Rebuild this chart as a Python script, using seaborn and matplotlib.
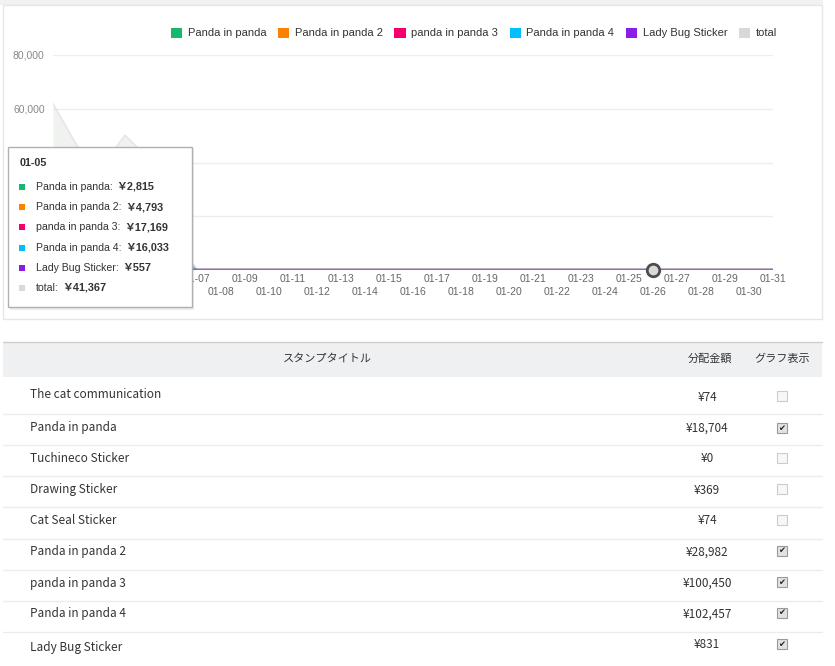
import matplotlib
matplotlib.use('Agg')
import matplotlib.pyplot as plt
from matplotlib.patches import Rectangle, Patch
from matplotlib.ticker import FuncFormatter
import seaborn as sns
import pandas as pd

# ---- data -------------------------------------------------------------
dates = ['01-01', '01-02', '01-03', '01-04', '01-05', '01-06', '01-07', '01-08',
         '01-09', '01-10', '01-11', '01-12', '01-13', '01-14', '01-15', '01-16',
         '01-17', '01-18', '01-19', '01-20', '01-21', '01-22', '01-23', '01-24',
         '01-25', '01-26', '01-27', '01-28', '01-29', '01-30', '01-31']

series_names = ['Panda in panda', 'Panda in panda 2', 'panda in panda 3',
                'Panda in panda 4', 'Lady Bug Sticker']
series_colors = ['#14b86e', '#ff8000', '#f5006b', '#00bfff', '#8a1ee6']
total_color = '#d5dad5'

panda1 = [4200, 3100, 2600, 3400, 2815, 2589, 0, 0, 0, 0, 0, 0, 0, 0, 0, 0,
          0, 0, 0, 0, 0, 0, 0, 0, 0, 0, 0, 0, 0, 0, 0]
panda2 = [7300, 5400, 4500, 5800, 4793, 1189, 0, 0, 0, 0, 0, 0, 0, 0, 0, 0,
          0, 0, 0, 0, 0, 0, 0, 0, 0, 0, 0, 0, 0, 0, 0]
panda3 = [25800, 19100, 15800, 20900, 17169, 1681, 0, 0, 0, 0, 0, 0, 0, 0, 0, 0,
          0, 0, 0, 0, 0, 0, 0, 0, 0, 0, 0, 0, 0, 0, 0]
panda4 = [24500, 18600, 15300, 20000, 16033, 8024, 0, 0, 0, 0, 0, 0, 0, 0, 0, 0,
          0, 0, 0, 0, 0, 0, 0, 0, 0, 0, 0, 0, 0, 0, 0]
ladybug = [150, 60, 0, 64, 557, 0, 0, 0, 0, 0, 0, 0, 0, 0, 0, 0,
           0, 0, 0, 0, 0, 0, 0, 0, 0, 0, 0, 0, 0, 0, 0]

hover_tip = 4      # 01-05 tooltip
hover_point = 25   # 01-26 marker

# table below the chart
stamp_titles = ['The cat communication', 'Panda in panda', 'Tuchineco Sticker',
                'Drawing Sticker', 'Cat Seal Sticker', 'Panda in panda 2',
                'panda in panda 3', 'Panda in panda 4', 'Lady Bug Sticker']
stamp_amounts = [74, 18704, 0, 369, 74, 28982, 100450, 102457, 831]
stamp_shown = [False, True, False, False, False, True, True, True, True]

# ---- frame ------------------------------------------------------------
sns.set_style('white')
plt.rcParams['font.family'] = ['Liberation Sans', 'Noto Sans CJK JP', 'DejaVu Sans']

W, H = 835, 666
fig = plt.figure(figsize=(8.35, 6.66), dpi=100)


def fx(x):
    return x / W


def fy(y):
    return 1 - y / H


def box(x0, y0, x1, y1, **kw):
    r = Rectangle((fx(x0), fy(y1)), (x1 - x0) / W, (y1 - y0) / H,
                  transform=fig.transFigure, **kw)
    fig.add_artist(r)
    return r


def hline(y, x0, x1, color, lw=1, z=-3):
    fig.add_artist(plt.Line2D([fx(x0), fx(x1)], [fy(y), fy(y)], color=color,
                              lw=lw, transform=fig.transFigure, zorder=z))


# chart panel
box(0, 0, 823, 5, fc='#f1f1f1', ec='none', zorder=-5)
box(3, 5, 822, 319, fc='white', ec='#e6e6e6', lw=1, zorder=-4)

ax = fig.add_axes([fx(53), fy(270), 720 / W, 215 / H])
ax.set_facecolor('none')

days = list(range(len(dates)))
values = [panda1, panda2, panda3, panda4, ladybug]
total = [sum(v) for v in zip(*values)]

long = pd.DataFrame({
    'day': days * len(series_names),
    'value': sum(values, []),
    'series': [n for n in series_names for _ in days],
})

ax.fill_between(days, total, color=total_color, alpha=0.35, lw=0, zorder=1)
ax.plot(days, total, color='#e2e5e2', lw=1, zorder=1)
sns.lineplot(data=long, x='day', y='value', hue='series', hue_order=series_names,
             palette=series_colors, lw=2, alpha=0.33, legend=False, ax=ax, zorder=2)

ax.plot(days[hover_point], total[hover_point], 'o', ms=9, mfc='#d9d9d9',
        mec='#4d4d4d', mew=2, clip_on=False, zorder=6)

ax.set_xlim(0, 30)
ax.set_ylim(0, 80000)
ax.set_yticks([0, 20000, 40000, 60000, 80000])
ax.yaxis.set_major_formatter(FuncFormatter(lambda v, p: f'{int(v):,}'))
ax.yaxis.grid(True, color='#ededed', lw=1)
ax.set_axisbelow(True)
ax.set_xticks(days[0::2])
ax.set_xticklabels(dates[0::2])
ax.set_xticks(days[1::2], minor=True)
ax.set_xticklabels(dates[1::2], minor=True)
ax.tick_params(axis='x', which='major', length=0, pad=3, labelsize=7.5, labelcolor='#666666')
ax.tick_params(axis='x', which='minor', length=0, pad=12, labelsize=7.5, labelcolor='#666666')
ax.tick_params(axis='y', length=0, pad=6, labelsize=7.5, labelcolor='#888888')
ax.set_xlabel('')
ax.set_ylabel('')
for s in ax.spines.values():
    s.set_visible(False)

# labels that sit under the tooltip are hidden by it
for lab in ax.get_yticklabels()[:3]:
    lab.set_visible(False)
for lab in ax.get_xticklabels()[:3] + ax.get_xticklabels(minor=True)[:3]:
    lab.set_visible(False)

handles = [Patch(fc=c, ec='none', label=n) for n, c in zip(series_names, series_colors)]
handles.append(Patch(fc=total_color, ec='none', label='total'))
fig.legend(handles=handles, loc='center', bbox_to_anchor=(fx(474), fy(33)), ncol=6,
           frameon=False, fontsize=8, handlelength=1.0, handleheight=1.0,
           handletextpad=0.5, columnspacing=1.05, labelcolor='#333333')

# tooltip
box(10, 149, 194, 310, fc='black', ec='none', alpha=0.07, zorder=4)
box(8, 147, 192, 307, fc='white', ec='#b0b0b0', lw=1, zorder=5)
fig.text(fx(20), fy(163), dates[hover_tip], fontsize=7.8, weight='bold',
         color='#333333', va='center', zorder=6)
renderer = fig.canvas.get_renderer()
tip_rows = [(n, c, v[hover_tip]) for n, c, v in zip(series_names, series_colors, values)]
tip_rows.append(('total', '#d9d9d9', total[hover_tip]))
for i, (name, col, val) in enumerate(tip_rows):
    y = 187 + 20.2 * i
    box(19, y - 3, 25, y + 3, fc=col, ec='none', zorder=6)
    t = fig.text(fx(36), fy(y), name + ':', fontsize=7.6, color='#333333',
                 va='center', zorder=6)
    x_end = t.get_window_extent(renderer).x1
    fig.text(fx(x_end + 4), fy(y), f'￥{val:,}', fontsize=7.8, weight='bold',
             color='#333333', va='center', zorder=6)

# ---- table ------------------------------------------------------------
tfont = ['Noto Sans CJK JP', 'DejaVu Sans']
box(3, 342, 822, 377, fc='#eff0f2', ec='none', zorder=-4)
hline(342, 3, 822, '#cfcfcf')
fig.text(fx(327), fy(359), 'スタンプタイトル', family=tfont, fontsize=8,
         color='#333333', ha='center', va='center')
fig.text(fx(710), fy(359), '分配金額', family=tfont, fontsize=8,
         color='#333333', ha='center', va='center')
fig.text(fx(782), fy(359), 'グラフ表示', family=tfont, fontsize=8,
         color='#333333', ha='center', va='center')

for y in [414, 445, 476, 507, 539, 570, 601, 632]:
    hline(y, 3, 822, '#ececec')

title_y = [394, 428, 459, 490, 521, 552, 583, 614, 647]
amount_y = [397, 428, 459, 490, 521, 552, 583, 614, 644]
check_y = [396, 428, 458, 489, 520, 551, 582, 613, 644]
for title, amt, shown, ty, ay, cy in zip(stamp_titles, stamp_amounts, stamp_shown,
                                         title_y, amount_y, check_y):
    fig.text(fx(30), fy(ty), title, family=tfont, fontsize=8.5, color='#333333',
             va='center')
    fig.text(fx(707), fy(ay), f'¥{amt:,}', family=tfont, fontsize=8.5,
             color='#333333', ha='center', va='center')
    if shown:
        box(777, cy - 5, 787, cy + 5, fc='#e2e2e2', ec='#9a9a9a', lw=0.8)
        fig.text(fx(782), fy(cy), '✔', family=['DejaVu Sans'], fontsize=6,
                 color='#222222', ha='center', va='center')
    else:
        box(777, cy - 5, 787, cy + 5, fc='#f7f7f7', ec='#cccccc', lw=0.8)

fig.savefig('out.png', dpi=100)
